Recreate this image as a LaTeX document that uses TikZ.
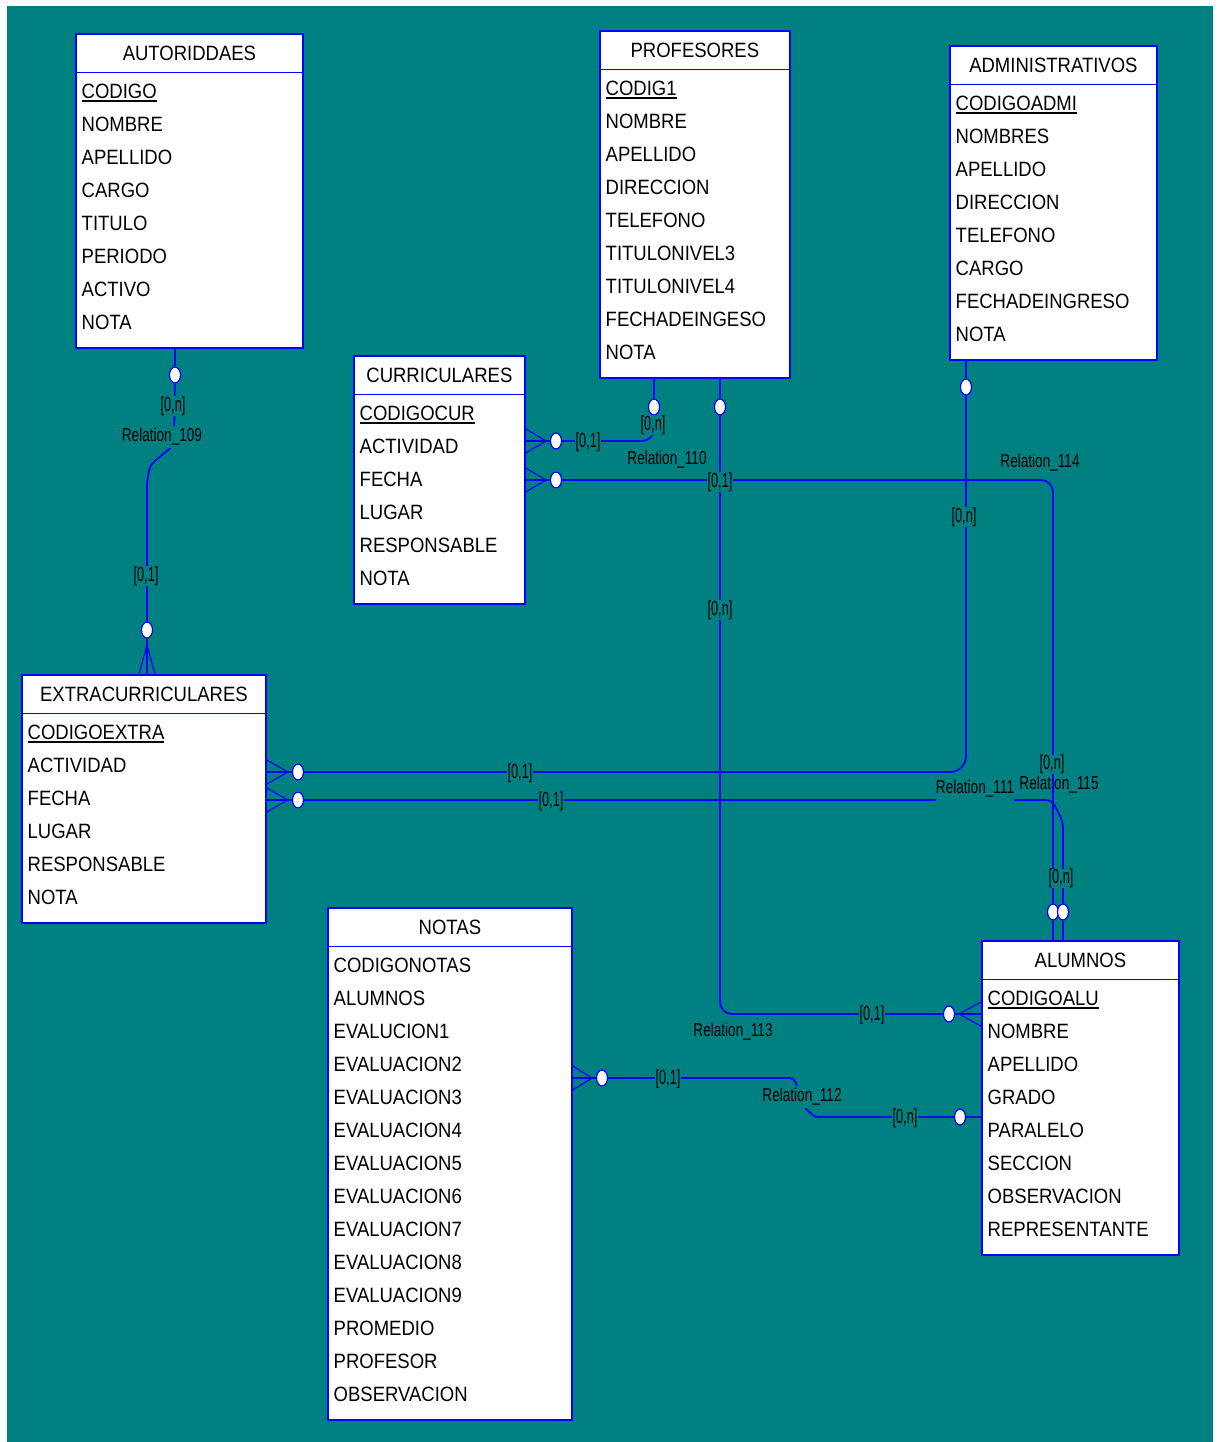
\documentclass[tikz,border=0pt]{standalone}
\usepackage{fontspec}
\setmainfont{Liberation Sans}
\usetikzlibrary{shapes.geometric,calc}
\definecolor{bg}{RGB}{0,128,128}
\definecolor{eblue}{RGB}{0,0,255}
\newsavebox\ulbox
\newcommand{\ul}[1]{\sbox\ulbox{#1}\rlap{\rule[-3pt]{\wd\ulbox}{1.6pt}}\usebox\ulbox}
\newcommand{\vs}[1]{\scalebox{1}[1.12]{#1}}
\newcommand{\cn}[1]{\scalebox{0.75}[1.2]{#1}}
\newcommand{\rn}[1]{\scalebox{0.8}[1.1]{#1}}
\tikzset{
  tbl/.style={draw=eblue, fill=white, line width=1.8pt, inner sep=0pt, anchor=north west},
  sepline/.style={draw=eblue, line width=1.8pt},
  ttl/.style={inner sep=0pt, font=\fontsize{18.5}{20}\selectfont, text height=14.8pt, text depth=0pt},
  attr/.style={anchor=west, inner sep=0pt, font=\fontsize{18.5}{20}\selectfont, text height=14.8pt, text depth=0pt},
  rel/.style={draw=eblue, line width=1.8pt, rounded corners=12pt},
  foot/.style={draw=eblue, line width=1.2pt},
  circ/.style={ellipse, draw=eblue, fill=white, line width=1.2pt, minimum width=11pt, minimum height=16pt, inner sep=0pt},
  card/.style={fill=bg, inner xsep=1pt, inner ysep=0pt, font=\fontsize{17}{17}\selectfont},
  rname/.style={fill=bg, inner xsep=1pt, inner ysep=2pt, font=\fontsize{17}{17}\selectfont}
}
% #1 name, #2 x, #3 y, #4 width, #5 rows count, #6 title, #7 rows
\newcommand{\erentity}[7]{%
  \node[tbl, minimum width=#4, minimum height={50+33*#5}] (#1) at (#2,#3) {};
  \draw[sepline] ($(#1.north west)+(0,39.5)$) -- ($(#1.north east)+(0,39.5)$);
  \node[ttl] (#1-t) at ($(#1.north)+(0,20)$) {\vs{#6}};
  \foreach \r [count=\i from 0] in {#7} {
    \node[attr] (#1-\i) at ($(#1.north west)+(6.5,58.5+33*\i)$) {\vs{\r}};
  }
}
\newcommand{\footleft}[2]{%
  \draw[foot] ($(#1.center -| #2.east)+(0,-12)$) -- ($(#1.center)+(-10,0)$) -- ($(#1.center -| #2.east)+(0,12)$);
  \draw[rel] (#1) -- (#1.center -| #2.east);
}
\newcommand{\footright}[2]{%
  \draw[foot] ($(#1.center -| #2.west)+(0,-12)$) -- ($(#1.center)+(10,0)$) -- ($(#1.center -| #2.west)+(0,12)$);
  \draw[rel] (#1) -- (#1.center -| #2.west);
}
\newcommand{\footdown}[2]{%
  \draw[foot] ($(#1.center |- #2.north)+(-8,0)$) -- ($(#1.center)+(0,15)$) -- ($(#1.center |- #2.north)+(8,0)$);
  \draw[rel] (#1) -- (#1.center |- #2.north);
}
\begin{document}
\begin{tikzpicture}[x=1pt,y=-1pt]
\useasboundingbox (0,0) rectangle (1219,1442);
\fill[white] (0,0) rectangle (1219,1442);
\fill[bg] (7,6) rectangle (1213,1442);

% entities
\erentity{aut}{75}{33}{227}{8}{AUTORIDDAES}{\ul{CODIGO},NOMBRE,APELLIDO,CARGO,TITULO,PERIODO,ACTIVO,NOTA}
\erentity{prof}{599}{30}{190}{9}{PROFESORES}{\ul{CODIG1},NOMBRE,APELLIDO,DIRECCION,TELEFONO,TITULONIVEL3,TITULONIVEL4,FECHADEINGESO,NOTA}
\erentity{adm}{949}{45}{207}{8}{ADMINISTRATIVOS}{\ul{CODIGOADMI},NOMBRES,APELLIDO,DIRECCION,TELEFONO,CARGO,FECHADEINGRESO,NOTA}
\erentity{cur}{353}{355}{171}{6}{CURRICULARES}{\ul{CODIGOCUR},ACTIVIDAD,FECHA,LUGAR,RESPONSABLE,NOTA}
\erentity{ext}{21}{674}{244}{6}{EXTRACURRICULARES}{\ul{CODIGOEXTRA},ACTIVIDAD,FECHA,LUGAR,RESPONSABLE,NOTA}
\erentity{nts}{327}{907}{244}{14}{NOTAS}{CODIGONOTAS,ALUMNOS,EVALUCION1,EVALUACION2,EVALUACION3,EVALUACION4,EVALUACION5,EVALUACION6,EVALUACION7,EVALUACION8,EVALUACION9,PROMEDIO,PROFESOR,OBSERVACION}
\erentity{alu}{981}{940}{197}{8}{ALUMNOS}{\ul{CODIGOALU},NOMBRE,APELLIDO,GRADO,PARALELO,SECCION,OBSERVACION,REPRESENTANTE}

% optionality circles
\node[circ] (cA) at (175,375) {};
\node[circ] (cB) at (147,630) {};
\node[circ] (cP1) at (654,407) {};
\node[circ] (cP2) at (720,407) {};
\node[circ] (cD) at (966,387) {};
\node[circ] (cC1) at (556,441) {};
\node[circ] (cC2) at (556,480) {};
\node[circ] (cE1) at (298,772) {};
\node[circ] (cE2) at (298,800) {};
\node[circ] (cL1) at (1053,912) {};
\node[circ] (cL2) at (1063,912) {};
\node[circ] (cL3) at (949,1014) {};
\node[circ] (cL4) at (960,1117) {};
\node[circ] (cN) at (602,1078) {};

% label drawn under the lines
\node[rname, fill=none, inner ysep=0pt] (r115) at (1059,785) {\rn{Relation\_115}};

% Relation_109
\draw[rel] (aut.south -| cA) -- (cA);
\draw[rel, rounded corners=6pt] (cA) -- (174,445) -- (150,465) -- (147,482) -- (cB);
\footdown{cB}{ext}

% Relation_110
\draw[rel] (prof.south -| cP1) -- (cP1);
\draw[rel] (cP1) -- (654,441) -- (cC1);
\footleft{cC1}{cur}

% Relation_114
\draw[rel] (cC2) -- (1053,480) -- (cL1);
\draw[rel] (cL1) -- (cL1 |- alu.north);
\footleft{cC2}{cur}

% Relation_113
\draw[rel] (prof.south -| cP2) -- (cP2);
\draw[rel] (cP2) -- (720,1014) -- (cL3);
\footright{cL3}{alu}

% Relation_112
\draw[rel, rounded corners=3pt] (cN) -- (793,1078) -- (797,1085) -- (805,1108) -- (815,1117) -- (cL4);
\draw[rel] (cL4) -- (cL4 -| alu.west);
\footleft{cN}{nts}

% ADMINISTRATIVOS - EXTRACURRICULARES
\draw[rel] (adm.south -| cD) -- (cD);
\draw[rel, rounded corners=16pt] (cD) -- (966,772) -- (cE1);
\footleft{cE1}{ext}

% Relation_111
\draw[rel, rounded corners=6pt] (cE2) -- (1052,800) -- (1063,822) -- (cL2);
\draw[rel] (cL2) -- (cL2 |- alu.north);
\footleft{cE2}{ext}

% relation names
\node[rname] (r109) at (162,437) {\rn{Relation\_109}};
\node[rname] (r110) at (667,460) {\rn{Relation\_110}};
\node[rname] (r114) at (1040,463) {\rn{Relation\_114}};
\node[rname, inner ysep=3pt, inner xsep=0pt] (r111) at (975,789) {\rn{Relation\_111}};
\node[rname] (r113) at (733,1032) {\rn{Relation\_113}};
\node[rname] (r112) at (802,1097) {\rn{Relation\_112}};

% cardinalities
\node[card] (k1) at (173,406) {\cn{[0,n]}};
\node[card] (k2) at (146,576) {\cn{[0,1]}};
\node[card] (k3) at (653,425) {\cn{[0,n]}};
\node[card] (k4) at (588,442) {\cn{[0,1]}};
\node[card] (k5) at (720,482) {\cn{[0,1]}};
\node[card] (k6) at (720,610) {\cn{[0,n]}};
\node[card] (k7) at (964,517) {\cn{[0,n]}};
\node[card] (k8) at (520,773) {\cn{[0,1]}};
\node[card] (k9) at (551,801) {\cn{[0,1]}};
\node[card] (k10) at (1052,764) {\cn{[0,n]}};
\node[card] (k11) at (1061,878) {\cn{[0,n]}};
\node[card] (k12) at (872,1015) {\cn{[0,1]}};
\node[card] (k13) at (668,1079) {\cn{[0,1]}};
\node[card] (k14) at (905,1118) {\cn{[0,n]}};
\end{tikzpicture}
\end{document}
